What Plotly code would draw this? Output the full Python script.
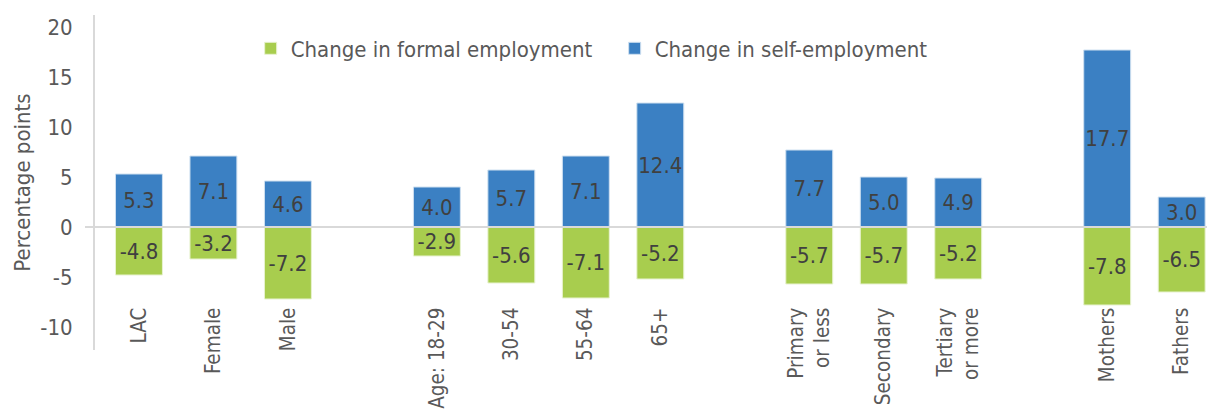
import plotly.graph_objects as go

# ---- data ----
slots = [0, 1, 2, 4, 5, 6, 7, 9, 10, 11, 13, 14]
categories = ["LAC", "Female", "Male", "Age: 18-29", "30-54", "55-64", "65+",
              "Primary<br>or less", "Secondary", "Tertiary<br>or more", "Mothers", "Fathers"]
formal_change = [-4.8, -3.2, -7.2, -2.9, -5.6, -7.1, -5.2, -5.7, -5.7, -5.2, -7.8, -6.5]
self_change = [5.3, 7.1, 4.6, 4.0, 5.7, 7.1, 12.4, 7.7, 5.0, 4.9, 17.7, 3.0]
y_ticks = [-10, -5, 0, 5, 10, 15, 20]
y_ticktext = ["-10", "-5", "0", "5", "10", "15", "20"]

FONT = "DejaVu Sans Condensed, Liberation Sans Narrow, Liberation Sans, sans-serif"
GREEN = "#a8cd4e"
BLUE = "#3b80c3"
GRAY_TXT = "#595959"
LABEL_TXT = "#404040"
AXIS_GRAY = "#d9d9d9"
FS = 22

fig = go.Figure()
fig.add_trace(go.Bar(
    x=slots, y=formal_change, name="Change in formal employment",
    marker=dict(color=GREEN, line=dict(color="#e8f2d0", width=1)),
    width=0.63,
    text=[f"{v:.1f}" for v in formal_change], textposition="inside",
    insidetextanchor="middle", textangle=0, constraintext="none",
    textfont=dict(family=FONT, size=FS, color=LABEL_TXT),
))
fig.add_trace(go.Bar(
    x=slots, y=self_change, name="Change in self-employment",
    marker=dict(color=BLUE, line=dict(color="#cfe0f0", width=1)),
    width=0.63,
    text=[f"{v:.1f}" for v in self_change], textposition="inside",
    insidetextanchor="middle", textangle=0, constraintext="none",
    textfont=dict(family=FONT, size=FS, color=LABEL_TXT),
))

fig.add_shape(type="line", xref="paper", yref="y", x0=-0.009, x1=1, y0=0, y1=0,
              line=dict(color=AXIS_GRAY, width=2), layer="above")

fig.update_layout(
    width=1207, height=410,
    margin=dict(l=95, r=0, t=15, b=60),
    barmode="relative",
    plot_bgcolor="white", paper_bgcolor="white",
    font=dict(family=FONT, size=FS, color=GRAY_TXT),
    showlegend=True,
    legend=dict(orientation="h", x=0.14, y=0.90, xanchor="left", yanchor="middle",
                font=dict(family=FONT, size=FS, color=GRAY_TXT),
                itemwidth=30, entrywidth=319, entrywidthmode="pixels",
                bgcolor="rgba(0,0,0,0)"),
    xaxis=dict(
        range=[-0.59, 14.34], tickvals=slots, ticktext=categories,
        tickangle=-90, showgrid=False, zeroline=False, showline=False,
        anchor="free", position=0.142, automargin=False,
        tickfont=dict(family=FONT, size=20.5, color=GRAY_TXT),
    ),
    yaxis=dict(
        range=[-12.3, 21.2], tickvals=y_ticks, ticktext=y_ticktext,
        showgrid=False, zeroline=False,
        showline=True, linecolor=AXIS_GRAY, linewidth=2,
        ticklabelstandoff=16, automargin=False,
        tickfont=dict(family=FONT, size=FS, color=GRAY_TXT),
        title=dict(text="Percentage points", standoff=4,
                   font=dict(family=FONT, size=FS, color=GRAY_TXT)),
    ),
)

fig.write_html("out.html")
